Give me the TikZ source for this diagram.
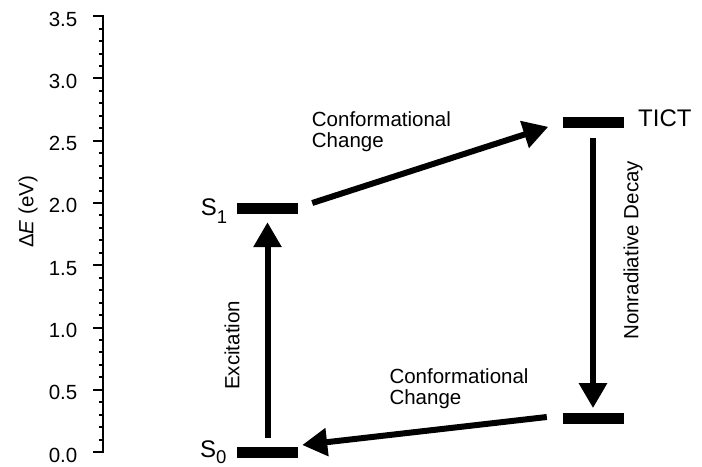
\documentclass[tikz,border=0pt]{standalone}
\usepackage{fontspec}
\setmainfont{Liberation Sans}
\usetikzlibrary{arrows.meta,calc}
\begin{document}
\begin{tikzpicture}[x=1bp,y=-1bp,
  txt/.style={inner sep=0pt, font=\fontsize{20.5bp}{21.5bp}\selectfont},
  big/.style={inner sep=0pt, font=\fontsize{24bp}{24bp}\selectfont},
  level/.style={fill=black, inner sep=0pt, minimum width=61bp, minimum height=11bp},
  arr/.style={line width=6bp, -{Triangle[length=25bp,width=27bp]}},
  axisline/.style={line width=2bp, line join=miter},
]
\useasboundingbox (0,0) rectangle (702,467);

% energy axis: 0 eV at y=452, 124.5 units per eV
\draw[axisline] (93,{452-124.5*3.5}) -- (103,{452-124.5*3.5}) -- (103,452) -- (93,452);
\foreach \i in {1,...,34}{
  \pgfmathtruncatemacro\r{mod(\i,5)}
  \ifnum\r=0
    \draw[axisline] (93,{452-12.45*\i}) -- (103,{452-12.45*\i});
  \else
    \draw[axisline] (98.5,{452-12.45*\i}) -- (103,{452-12.45*\i});
  \fi
}
\foreach \v [count=\k from 0] in {0.0,0.5,1.0,1.5,2.0,2.5,3.0,3.5}{
  \node[txt, anchor=base east] (tick\k) at (77.5,{452-62.25*\k+10}) {\v};
}
\node[txt, rotate=90, anchor=base west] (elab) at (33.3,248) {Δ\textit{E} (eV)};

% energy levels
\node[level] (s1) at (267.5,209) {};
\node[level] (s0) at (267.5,452) {};
\node[level] (tict) at (593,122.8) {};
\node[level] (low) at (593,418.3) {};

% level labels
\node[big, anchor=base west] (s1lab) at (200.7,216) {S\raisebox{-7.3bp}{\fontsize{18.5bp}{18.5bp}\selectfont 1}};
\node[big, anchor=base west] (s0lab) at (200,457.3) {S\raisebox{-6.5bp}{\fontsize{18.5bp}{18.5bp}\selectfont 0}};
\node[big, anchor=base west] (tictlab) at (638,126.7) {TICT};

% transitions
\draw[arr] ([yshift=8.5bp]s0.north) -- ([yshift=-7.5bp]s1.south);
\draw[arr] ([xshift=14bp,yshift=6bp]s1.east) -- ([xshift=-14bp,yshift=-4bp]tict.west);
\draw[arr] ([yshift=-10bp]tict.south) -- ([yshift=4.5bp]low.north);
\draw[arr] ([xshift=-15.5bp,yshift=1.3bp]low.west) -- ([xshift=4bp,yshift=7bp]s0.east);

% transition labels
\node[txt, rotate=90, anchor=base west] (exc) at (239.3,390) {Excitation};
\node[txt, rotate=90, anchor=base west] (nrd) at (638.3,340) {Nonradiative Decay};
\node[txt, align=left, anchor=north west] (cc1) at (311.7,111) {Conformational\\Change};
\node[txt, align=left, anchor=north west] (cc2) at (389.3,368.3) {Conformational\\Change};
\end{tikzpicture}
\end{document}
